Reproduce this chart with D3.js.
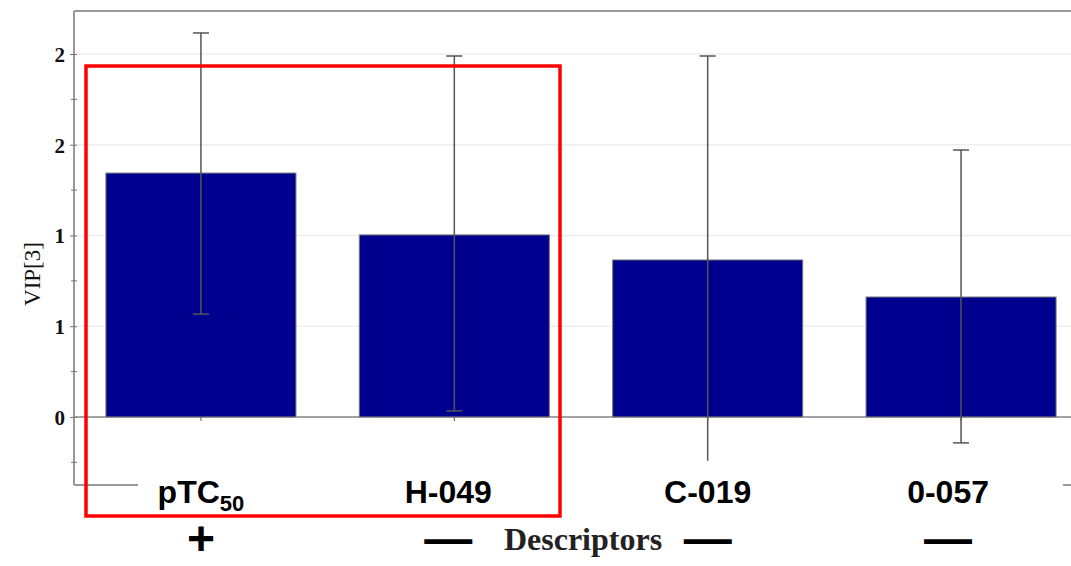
<!DOCTYPE html>
<html>
<head>
<meta charset="utf-8">
<script src="https://cdn.jsdelivr.net/npm/d3@7"></script>
<style>
  body { margin: 0; background: #fff; }
  svg { display: block; }
</style>
</head>
<body>
<div id="chart"></div>
<script>
// Data
const categories = ["pTC50", "H-049", "C-019", "0-057"];
const vipValues = [1.344, 1.003, 0.865, 0.661];
const errUpper = [2.116, 1.989, 1.989, 1.471];
const errLower = [0.567, 0.033, -0.242, -0.143];
const errLowerCap = [true, true, false, true];
const signs = ["+", "—", "—", "—"];
const yTickValues = [0, 0.5, 1, 1.5, 2];
const yTickLabels = ["0", "1", "1", "2", "2"];
const yMinorTicks = [-0.25, 0.25, 0.75, 1.25, 1.75];

const svg = d3.select("#chart")
  .append("svg")
  .attr("width", 1071)
  .attr("height", 566);

const margin = { top: 11, left: 74, right: 0, bottom: 81 };
const width = 1071 - margin.left - margin.right;
const height = 566 - margin.top - margin.bottom;

const chart = svg.append("g")
  .attr("transform", `translate(${margin.left},${margin.top})`);

const yScale = d3.scaleLinear()
  .domain([-0.375, 2.237])
  .range([height, 0]);

// the band range runs a little past the right edge, as in the original
const xScale = d3.scaleBand()
  .domain(categories)
  .range([0, 1014])
  .paddingInner(0.25)
  .paddingOuter(0.126);

const cx = d => xScale(d) + xScale.bandwidth() / 2;

// grid lines
chart.append("g")
  .selectAll("line")
  .data(yTickValues)
  .join("line")
  .attr("x1", 0)
  .attr("x2", width)
  .attr("y1", d => yScale(d))
  .attr("y2", d => yScale(d))
  .attr("stroke", "#eeeeee")
  .attr("stroke-width", 1.5);

// frame: top line, short bits of bottom line
chart.append("line")
  .attr("x1", 0).attr("x2", width)
  .attr("y1", 0).attr("y2", 0)
  .attr("stroke", "#777").attr("stroke-width", 1.5);

chart.append("line")
  .attr("x1", 0).attr("x2", 64)
  .attr("y1", height).attr("y2", height)
  .attr("stroke", "#777").attr("stroke-width", 1.5);

chart.append("line")
  .attr("x1", width - 8).attr("x2", width)
  .attr("y1", height).attr("y2", height)
  .attr("stroke", "#777").attr("stroke-width", 1.5);

// y axis
const yAxis = chart.append("g")
  .call(d3.axisLeft(yScale)
    .tickValues(yTickValues)
    .tickSize(4)
    .tickFormat((d, i) => yTickLabels[i]));
yAxis.select(".domain").remove();
yAxis.append("line")
  .attr("x1", 0).attr("x2", 0)
  .attr("y1", 0).attr("y2", height)
  .attr("stroke", "#777").attr("stroke-width", 1.5);
yAxis.selectAll(".tick line").attr("stroke", "#777").attr("x2", 3).attr("x1", -4);
yAxis.selectAll(".tick text")
  .attr("x", -9)
  .attr("dy", "0.35em")
  .style("font-family", "'Liberation Serif', 'Times New Roman', serif")
  .style("font-weight", "bold")
  .style("font-size", "21px")
  .attr("fill", "#111");

chart.append("g")
  .selectAll("line")
  .data(yMinorTicks)
  .join("line")
  .attr("x1", -3).attr("x2", 3)
  .attr("y1", d => yScale(d))
  .attr("y2", d => yScale(d))
  .attr("stroke", "#777");

// zero line
chart.append("line")
  .attr("x1", 0).attr("x2", width)
  .attr("y1", yScale(0)).attr("y2", yScale(0))
  .attr("stroke", "#888").attr("stroke-width", 1.5);

// bars
chart.append("g")
  .selectAll("rect")
  .data(categories)
  .join("rect")
  .attr("x", d => xScale(d))
  .attr("y", (d, i) => yScale(vipValues[i]))
  .attr("width", xScale.bandwidth())
  .attr("height", (d, i) => yScale(0) - yScale(vipValues[i]))
  .attr("fill", "#00008f")
  .attr("stroke", "#777")
  .attr("stroke-width", 1);

// x ticks at bar centres
chart.append("g")
  .selectAll("line")
  .data(categories)
  .join("line")
  .attr("x1", cx)
  .attr("x2", cx)
  .attr("y1", yScale(0))
  .attr("y2", yScale(0) + 4)
  .attr("stroke", "#555");

// error bars
const err = chart.append("g")
  .attr("stroke", "#555")
  .attr("stroke-width", 1.5);
categories.forEach((c, i) => {
  const x = cx(c);
  err.append("line")
    .attr("x1", x).attr("x2", x)
    .attr("y1", yScale(errUpper[i])).attr("y2", yScale(errLower[i]));
  err.append("line")
    .attr("x1", x - 8).attr("x2", x + 8)
    .attr("y1", yScale(errUpper[i])).attr("y2", yScale(errUpper[i]));
  if (errLowerCap[i]) {
    err.append("line")
      .attr("x1", x - 8).attr("x2", x + 8)
      .attr("y1", yScale(errLower[i])).attr("y2", yScale(errLower[i]));
  }
});

// category labels (two of them sit a little left of their bar)
const labelShift = [0, -6, 0, -13];
const labels = chart.append("g")
  .selectAll("text")
  .data(categories)
  .join("text")
  .attr("x", (d, i) => cx(d) + labelShift[i])
  .attr("y", 492)
  .attr("text-anchor", "middle")
  .style("font-family", "'Liberation Sans', Arial, sans-serif")
  .style("font-weight", "bold")
  .style("font-size", "32px")
  .attr("fill", "#000");
labels.each(function(d) {
  const t = d3.select(this);
  if (d === "pTC50") {
    t.append("tspan").text("pTC");
    t.append("tspan").attr("dy", 8).style("font-size", "22px").text("50");
  } else {
    t.text(d);
  }
});

// signs under the labels
chart.append("g")
  .selectAll("text")
  .data(signs)
  .join("text")
  .attr("x", (d, i) => cx(categories[i]) + labelShift[i])
  .attr("y", 544)
  .attr("text-anchor", "middle")
  .style("font-family", "'Liberation Sans', Arial, sans-serif")
  .style("font-weight", "bold")
  .style("font-size", "48px")
  .attr("fill", "#000")
  .text(d => d);

// axis titles
svg.append("text")
  .attr("x", 583)
  .attr("y", 550)
  .attr("text-anchor", "middle")
  .style("font-family", "'Liberation Serif', 'Times New Roman', serif")
  .style("font-weight", "bold")
  .style("font-size", "32px")
  .attr("fill", "#222")
  .text("Descriptors");

svg.append("text")
  .attr("transform", "translate(40,274) rotate(-90)")
  .attr("text-anchor", "middle")
  .style("font-family", "'Liberation Serif', 'Times New Roman', serif")
  .style("font-size", "23px")
  .attr("fill", "#111")
  .text("VIP[3]");

// red highlight box
svg.append("rect")
  .attr("x", 86)
  .attr("y", 66)
  .attr("width", 474)
  .attr("height", 450)
  .attr("fill", "none")
  .attr("stroke", "#ff0000")
  .attr("stroke-width", 3.5);
</script>
</body>
</html>
